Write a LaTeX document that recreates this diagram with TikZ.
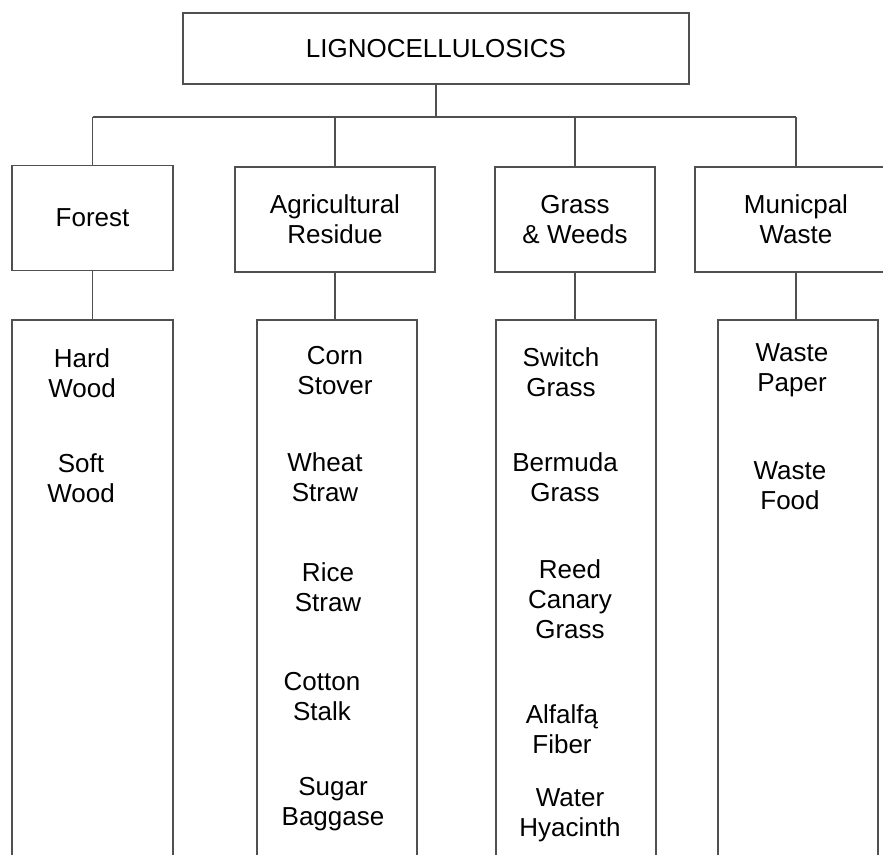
\documentclass[tikz,border=0pt]{standalone}
\usepackage{fontspec}
\setmainfont{Liberation Sans}
\usetikzlibrary{positioning}
\definecolor{lineGray}{RGB}{80,80,80}

\begin{document}
\begin{tikzpicture}[x=1pt, y=-1pt,
  box/.style={rectangle, draw=lineGray, line width=1.6pt, inner sep=0pt,
              minimum width=160pt, minimum height=105pt, align=center,
              font=\fontsize{26}{30}\selectfont},
  listbox/.style={rectangle, draw=lineGray, line width=1.6pt, inner sep=0pt,
              anchor=north, minimum width=160pt, minimum height=600pt},
  item/.style={align=center, inner sep=0pt, font=\fontsize{26}{30}\selectfont},
  link/.style={draw=lineGray, line width=1.6pt}
]
\useasboundingbox (0,0) rectangle (883,854);
\clip (0,0) rectangle (883,854);

% top level
\node[box, minimum width=506pt, minimum height=71pt] (root) at (436,48.5) {LIGNOCELLULOSICS};
\coordinate (bus) at (0,117);

% categories
\node[box, minimum width=161pt] (forest) at (92.5,218) {Forest};
\node[box, minimum width=200pt] (agri) at (335,219.5) {Agricultural\\Residue};
\node[box] (grass) at (575,219.5) {Grass\\\& Weeds};
\node[box, minimum width=202pt] (muni) at (796,219.5) {Municpal\\Waste};

% lists
\node[listbox, minimum width=161pt] (forestlist) at (92.5,319) {};
\node[listbox] (agrilist) at (337,319) {};
\node[listbox] (grasslist) at (576,319) {};
\node[listbox] (munilist) at (798,319) {};

% connectors
\draw[link] (root.south) -- (root.south |- bus);
\draw[link] (forest.north |- bus) -- (muni.north |- bus);
\foreach \c in {forest, agri, grass, muni} {
  \draw[link] (\c.north |- bus) -- (\c.north);
  \draw[link] (\c.south) -- (\c.south |- \c list.north);
}

% items
\node[item] (hardwood) at (82,373) {Hard\\Wood};
\node[item] (softwood) at (81,478) {Soft\\Wood};

\node[item] (corn) at (335,371) {Corn\\Stover};
\node[item] (wheat) at (325,477) {Wheat\\Straw};
\node[item] (rice) at (328,587) {Rice\\Straw};
\node[item] (cotton) at (322,697) {Cotton\\Stalk};
\node[item] (sugar) at (333,804) {Sugar\\Baggase};

\node[item] (switch) at (561,372) {Switch\\Grass};
\node[item] (bermuda) at (565,477) {Bermuda\\Grass};
\node[item] (reed) at (570,599) {Reed\\Canary\\Grass};
\node[item] (alfalfa) at (562,729) {Alfalfą\\Fiber};
\node[item] (hyacinth) at (570,815) {Water\\Hyacinth};

\node[item] (paper) at (792,370) {Waste\\Paper};
\node[item] (food) at (790,486) {Waste\\Food};
\end{tikzpicture}
\end{document}
